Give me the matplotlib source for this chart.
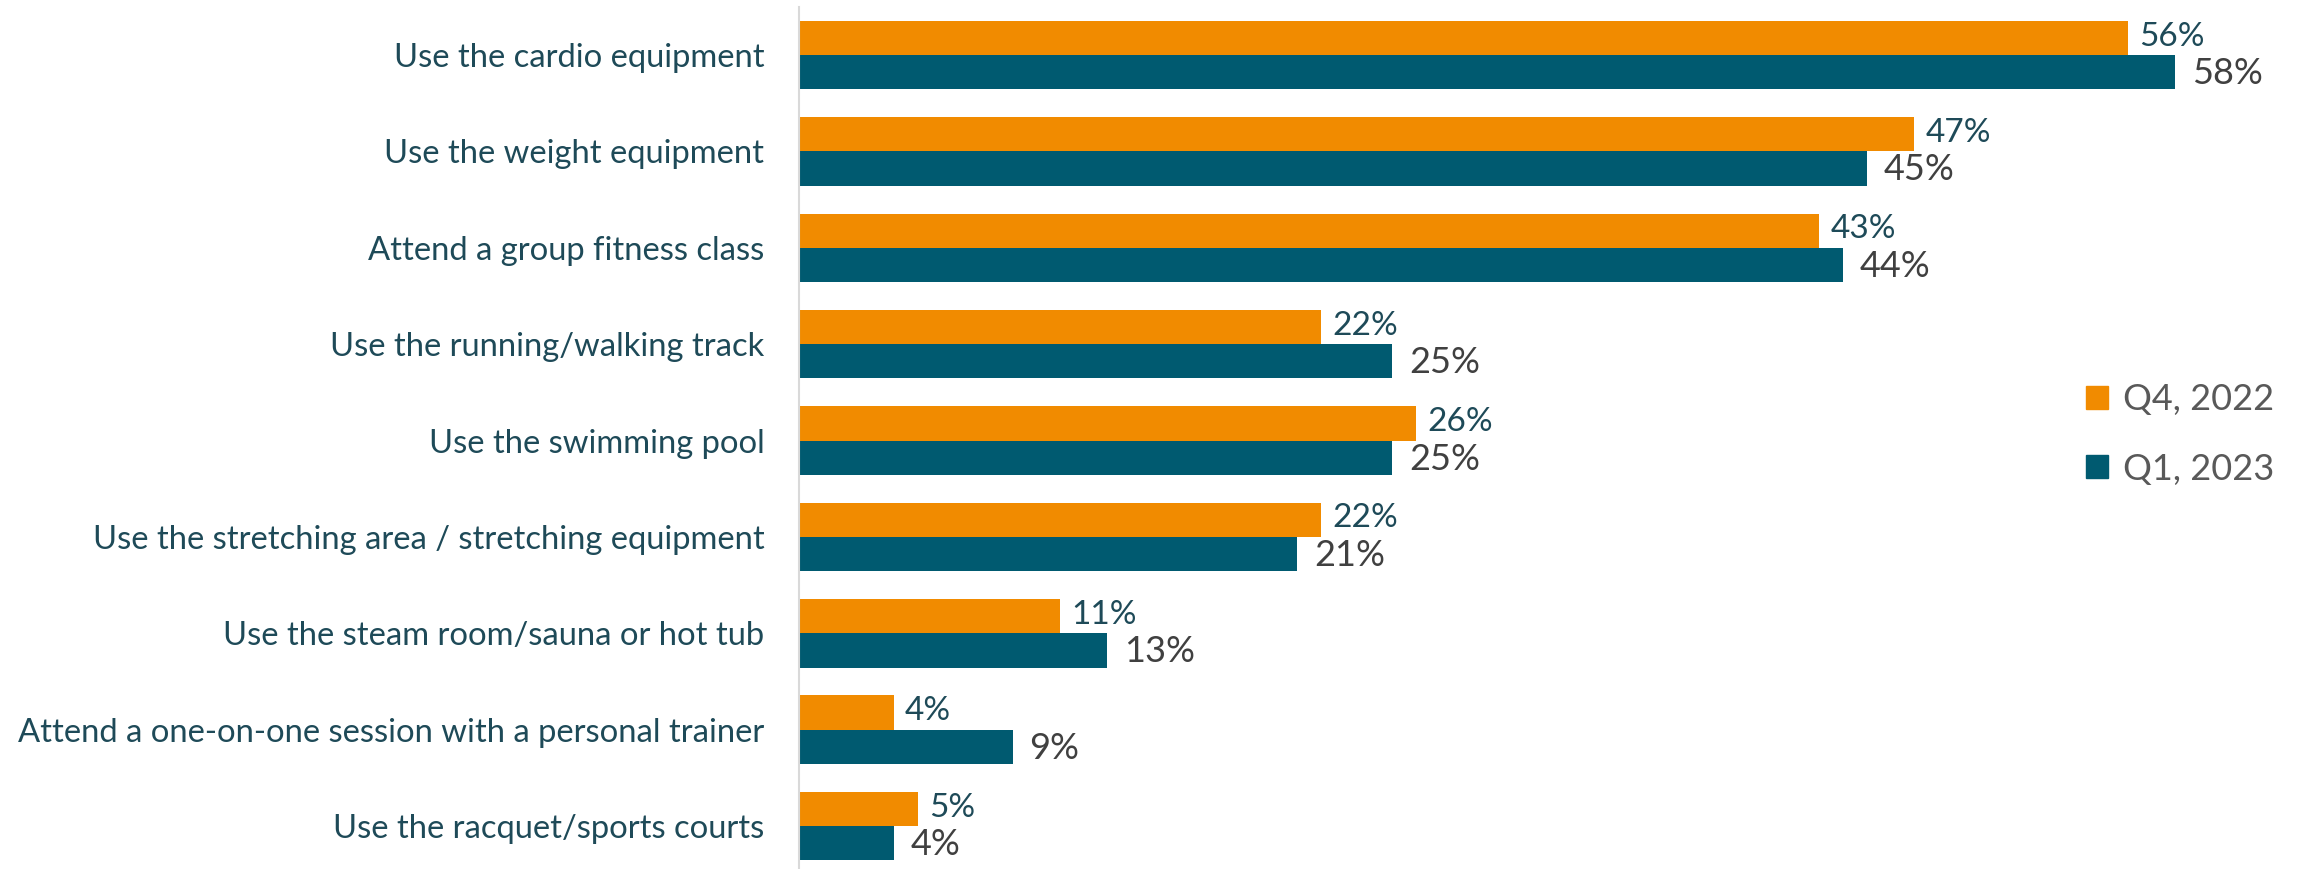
import matplotlib
matplotlib.use("Agg")
import matplotlib.pyplot as plt
from matplotlib.patches import Patch
import numpy as np

plt.rcParams['font.family'] = ['Lato', 'DejaVu Sans']

categories = [
    "Use the cardio equipment",
    "Use the weight equipment",
    "Attend a group fitness class",
    "Use the running/walking track",
    "Use the swimming pool",
    "Use the stretching area / stretching equipment",
    "Use the steam room/sauna or hot tub",
    "Attend a one-on-one session with a personal trainer",
    "Use the racquet/sports courts",
]
q4_2022 = [56, 47, 43, 22, 26, 22, 11, 4, 5]
q1_2023 = [58, 45, 44, 25, 25, 21, 13, 9, 4]
series_names = ["Q4, 2022", "Q1, 2023"]

ORANGE = "#F18B00"
TEAL = "#005A70"
LABEL_COLOR = "#1E4A58"
VALUE_DARK = "#404040"

fig = plt.figure(figsize=(23, 8.69), dpi=100)
ax = fig.add_axes([0.3474, -0.006, 0.619, 0.998])

y = np.arange(len(categories))
h = 0.355
ax.barh(y - h / 2, q4_2022, height=h, color=ORANGE)
ax.barh(y + h / 2, q1_2023, height=h, color=TEAL)

for yi, v in zip(y, q4_2022):
    ax.annotate(f"{v}%", (v, yi - h / 2), xytext=(8, 1), textcoords="offset points",
                va="center", ha="left", fontsize=24, color=LABEL_COLOR)
for yi, v in zip(y, q1_2023):
    ax.annotate(f"{v}%", (v, yi + h / 2), xytext=(12, -1), textcoords="offset points",
                va="center", ha="left", fontsize=26, color=VALUE_DARK)

ax.set_xlim(0, 60)
ax.set_ylim(len(categories) - 0.5, -0.5)
ax.set_yticks(y)
ax.set_yticklabels(categories, fontsize=23.6, color=LABEL_COLOR)
ax.tick_params(axis="y", length=0, pad=25)
ax.set_xticks([])
for s in ["top", "right", "bottom"]:
    ax.spines[s].set_visible(False)
ax.spines["left"].set_color("#D9D9D9")
ax.spines["left"].set_linewidth(1.5)

handles = [Patch(color=ORANGE), Patch(color=TEAL)]
fig.legend(handles, series_names, loc="center left", bbox_to_anchor=(0.893, 0.5),
           frameon=False, fontsize=26, labelcolor="#595959",
           handlelength=0.6, handleheight=0.6, handletextpad=0.4, labelspacing=1.0)

fig.savefig("out.png", dpi=100)
